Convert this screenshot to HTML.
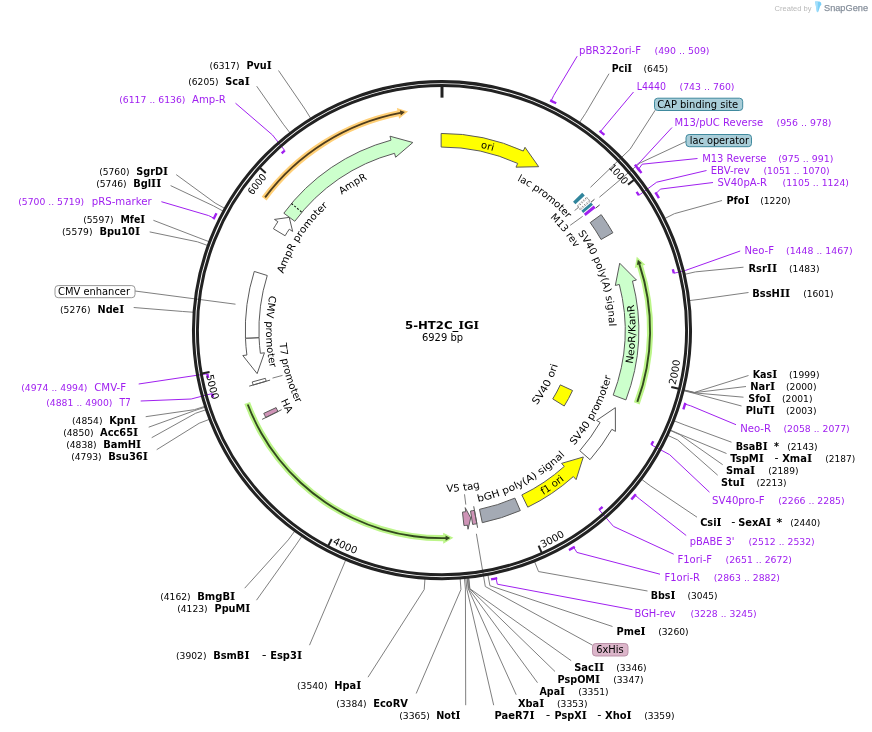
<!DOCTYPE html>
<html lang="en"><head><meta charset="utf-8"><title>5-HT2C_IGI plasmid map</title>
<style>
html,body{margin:0;padding:0;background:#fff;}
body{width:872px;height:732px;overflow:hidden;}
svg{display:block;}
text{white-space:pre;}
.si{font-family:'DejaVu Serif','Liberation Serif',serif;font-size:110%;}
.sj{font-family:'DejaVu Serif','Liberation Serif',serif;}
</style></head>
<body>
<svg width="872" height="732" viewBox="0 0 872 732" font-family="'DejaVu Sans','Liberation Sans',sans-serif">
<rect x="0" y="0" width="872" height="732" fill="#fff"/>
<path d="M278.5,70.5 L305,109.17 L310.85,118.6" fill="none" stroke="#707070" stroke-width="0.9" stroke-linejoin="round"/>
<path d="M256.7,86.2 L283.31,124.2 L290.08,132.99" fill="none" stroke="#707070" stroke-width="0.9" stroke-linejoin="round"/>
<path d="M176.2,174.6 L215.18,203.05 L224.87,208.48" fill="none" stroke="#707070" stroke-width="0.9" stroke-linejoin="round"/>
<path d="M170.6,185.6 L213.59,205.94 L223.34,211.25" fill="none" stroke="#707070" stroke-width="0.9" stroke-linejoin="round"/>
<path d="M153.4,220.3 L198.94,237.84 L209.31,241.78" fill="none" stroke="#707070" stroke-width="0.9" stroke-linejoin="round"/>
<path d="M149.7,231.9 L197.46,241.82 L207.9,245.59" fill="none" stroke="#707070" stroke-width="0.9" stroke-linejoin="round"/>
<path d="M133.7,307.5 L182.67,311.48 L193.74,312.28" fill="none" stroke="#707070" stroke-width="0.9" stroke-linejoin="round"/>
<path d="M145.7,416.7 L194.46,409.66 L205.03,406.27" fill="none" stroke="#707070" stroke-width="0.9" stroke-linejoin="round"/>
<path d="M148.7,427.2 L194.75,410.56 L205.3,407.13" fill="none" stroke="#707070" stroke-width="0.9" stroke-linejoin="round"/>
<path d="M151.7,437.7 L195.64,413.25 L206.15,409.7" fill="none" stroke="#707070" stroke-width="0.9" stroke-linejoin="round"/>
<path d="M156.7,449.7 L199.23,423.23 L209.6,419.25" fill="none" stroke="#707070" stroke-width="0.9" stroke-linejoin="round"/>
<path d="M244.7,588.2 L288.3,539.86 L294.86,530.9" fill="none" stroke="#707070" stroke-width="0.9" stroke-linejoin="round"/>
<path d="M256.5,600.2 L295.81,545.16 L302.05,535.98" fill="none" stroke="#707070" stroke-width="0.9" stroke-linejoin="round"/>
<path d="M309.5,645.2 L341.54,569.96 L345.83,559.72" fill="none" stroke="#707070" stroke-width="0.9" stroke-linejoin="round"/>
<path d="M368,677.2 L424.21,589.54 L424.97,578.47" fill="none" stroke="#707070" stroke-width="0.9" stroke-linejoin="round"/>
<path d="M416.2,693.5 L460.96,589.46 L460.15,578.39" fill="none" stroke="#707070" stroke-width="0.9" stroke-linejoin="round"/>
<path d="M465.7,705.2 L465.43,589.09 L464.43,578.04" fill="none" stroke="#707070" stroke-width="0.9" stroke-linejoin="round"/>
<path d="M493.7,705.2 L466.84,588.96 L465.78,577.91" fill="none" stroke="#707070" stroke-width="0.9" stroke-linejoin="round"/>
<path d="M516.2,694.7 L468.24,588.82 L467.12,577.78" fill="none" stroke="#707070" stroke-width="0.9" stroke-linejoin="round"/>
<path d="M537.5,682.7 L468.71,588.77 L467.57,577.73" fill="none" stroke="#707070" stroke-width="0.9" stroke-linejoin="round"/>
<path d="M555,671.5 L469.65,588.68 L468.47,577.64" fill="none" stroke="#707070" stroke-width="0.9" stroke-linejoin="round"/>
<path d="M571.2,660.7 L469.88,588.65 L468.69,577.61" fill="none" stroke="#707070" stroke-width="0.9" stroke-linejoin="round"/>
<path d="M612.5,626.5 L489.94,585.69 L487.89,574.78" fill="none" stroke="#707070" stroke-width="0.9" stroke-linejoin="round"/>
<path d="M647.5,591 L538.54,571.56 L534.41,561.26" fill="none" stroke="#707070" stroke-width="0.9" stroke-linejoin="round"/>
<path d="M697,517.2 L650.27,485.79 L641.38,479.15" fill="none" stroke="#707070" stroke-width="0.9" stroke-linejoin="round"/>
<path d="M717.7,475.2 L677.68,439.94 L667.62,435.25" fill="none" stroke="#707070" stroke-width="0.9" stroke-linejoin="round"/>
<path d="M722.7,464.7 L680.02,434.78 L669.85,430.32" fill="none" stroke="#707070" stroke-width="0.9" stroke-linejoin="round"/>
<path d="M726.5,453.5 L680.21,434.35 L670.04,429.9" fill="none" stroke="#707070" stroke-width="0.9" stroke-linejoin="round"/>
<path d="M731.5,442.2 L684.17,424.77 L673.83,420.73" fill="none" stroke="#707070" stroke-width="0.9" stroke-linejoin="round"/>
<path d="M741.5,406 L694.2,393.34 L683.44,390.65" fill="none" stroke="#707070" stroke-width="0.9" stroke-linejoin="round"/>
<path d="M743.5,397.2 L694.32,392.89 L683.55,390.21" fill="none" stroke="#707070" stroke-width="0.9" stroke-linejoin="round"/>
<path d="M746,386.5 L694.37,392.66 L683.6,389.99" fill="none" stroke="#707070" stroke-width="0.9" stroke-linejoin="round"/>
<path d="M748.5,375.5 L694.43,392.43 L683.65,389.77" fill="none" stroke="#707070" stroke-width="0.9" stroke-linejoin="round"/>
<path d="M748.5,292.5 L700.16,299.28 L689.14,300.6" fill="none" stroke="#707070" stroke-width="0.9" stroke-linejoin="round"/>
<path d="M743.5,267.2 L695.39,271.88 L684.57,274.37" fill="none" stroke="#707070" stroke-width="0.9" stroke-linejoin="round"/>
<path d="M722,200.5 L674.45,213.67 L664.53,218.65" fill="none" stroke="#707070" stroke-width="0.9" stroke-linejoin="round"/>
<path d="M609,73.7 L585.55,113.37 L579.42,122.62" fill="none" stroke="#707070" stroke-width="0.9" stroke-linejoin="round"/>
<path d="M655.2,110.2 L630.1,149.21 L590.46,187.34" fill="none" stroke="#707070" stroke-width="0.9" stroke-linejoin="round"/>
<path d="M686,141.5 L639.9,163.06 L599.4,197.26" fill="none" stroke="#707070" stroke-width="0.9" />
<path d="M135,291 L235.5,304.2" fill="none" stroke="#707070" stroke-width="0.9" />
<path d="M592.5,645.2 L485.3,586.52 L476.39,533.77" fill="none" stroke="#707070" stroke-width="0.9" />
<path d="M577.2,56.2 L553.76,95.4 L551.4,100.36" fill="none" stroke="#a020f0" stroke-width="1.0" stroke-linejoin="round"/>
<path d="M633.5,92 L604.22,126.96 L600.79,131.26" fill="none" stroke="#a020f0" stroke-width="1.0" stroke-linejoin="round"/>
<path d="M672,127.5 L640.2,161.88 L636.01,165.44" fill="none" stroke="#a020f0" stroke-width="1.0" stroke-linejoin="round"/>
<path d="M697.5,158.5 L642.2,164.2 L638.82,168.81" fill="none" stroke="#a020f0" stroke-width="1.0" stroke-linejoin="round"/>
<path d="M706.5,170.5 L656.7,182.2 L638.94,195.27" fill="none" stroke="#a020f0" stroke-width="1.0" stroke-linejoin="round"/>
<path d="M713,182.5 L660.4,189.1 L656.43,193.07" fill="none" stroke="#a020f0" stroke-width="1.0" stroke-linejoin="round"/>
<path d="M740.2,251 L685.2,270.5 L673.83,273.29" fill="none" stroke="#a020f0" stroke-width="1.0" stroke-linejoin="round"/>
<path d="M736,424.7 L690.74,405.84 L685.48,404.24" fill="none" stroke="#a020f0" stroke-width="1.0" stroke-linejoin="round"/>
<path d="M709.5,492.2 L669.7,454.7 L651.34,444.85" fill="none" stroke="#a020f0" stroke-width="1.0" stroke-linejoin="round"/>
<path d="M686.2,535.5 L639.67,499.05 L635.49,495.48" fill="none" stroke="#a020f0" stroke-width="1.0" stroke-linejoin="round"/>
<path d="M673.7,554.2 L613.5,526.4 L599.15,509.82" fill="none" stroke="#a020f0" stroke-width="1.0" stroke-linejoin="round"/>
<path d="M660,574.2 L576.89,552.42 L574.03,547.72" fill="none" stroke="#a020f0" stroke-width="1.0" stroke-linejoin="round"/>
<path d="M632.5,609.7 L497.33,584.19 L496.16,578.82" fill="none" stroke="#a020f0" stroke-width="1.0" stroke-linejoin="round"/>
<path d="M140.7,401 L191.2,399 L211.89,393.61" fill="none" stroke="#a020f0" stroke-width="1.0" stroke-linejoin="round"/>
<path d="M138.7,384 L190,376.3 L207.32,373.79" fill="none" stroke="#a020f0" stroke-width="1.0" stroke-linejoin="round"/>
<path d="M161.4,201.7 L208.61,215.58 L213.54,218" fill="none" stroke="#a020f0" stroke-width="1.0" stroke-linejoin="round"/>
<path d="M235.5,103.2 L272.5,135 L284.77,150.55" fill="none" stroke="#a020f0" stroke-width="1.0" stroke-linejoin="round"/>
<circle cx="442" cy="330.15" r="248.52" fill="none" stroke="#222" stroke-width="3.05"/>
<circle cx="442" cy="330.15" r="244.58" fill="none" stroke="#222" stroke-width="2.95"/>
<path d="M551.18,100.81 A254,254 0 0,1 555.12,102.73" fill="none" stroke="#a020f0" stroke-width="2.4" stroke-linecap="square"/>
<path d="M600.48,131.65 A254,254 0 0,1 603.52,134.12" fill="none" stroke="#a020f0" stroke-width="2.4" stroke-linecap="square"/>
<path d="M635.63,165.76 A254,254 0 0,1 638.87,169.66" fill="none" stroke="#a020f0" stroke-width="2.4" stroke-linecap="square"/>
<path d="M638.43,169.12 A254,254 0 0,1 640.75,171.99" fill="none" stroke="#a020f0" stroke-width="2.4" stroke-linecap="square"/>
<path d="M636.58,191.89 A238.7,238.7 0 0,1 638.94,195.27" fill="none" stroke="#a020f0" stroke-width="2.4" stroke-linecap="butt"/>
<path d="M656.01,193.34 A254,254 0 0,1 658.33,197.05" fill="none" stroke="#a020f0" stroke-width="2.4" stroke-linecap="square"/>
<path d="M672.81,269.3 A238.7,238.7 0 0,1 673.83,273.29" fill="none" stroke="#a020f0" stroke-width="2.4" stroke-linecap="butt"/>
<path d="M685,404.09 A254,254 0 0,1 683.69,408.27" fill="none" stroke="#a020f0" stroke-width="2.4" stroke-linecap="square"/>
<path d="M653.28,441.22 A238.7,238.7 0 0,1 651.34,444.85" fill="none" stroke="#a020f0" stroke-width="2.4" stroke-linecap="butt"/>
<path d="M635.11,495.15 A254,254 0 0,1 632.08,498.63" fill="none" stroke="#a020f0" stroke-width="2.4" stroke-linecap="square"/>
<path d="M602.54,506.8 A238.7,238.7 0 0,1 599.15,509.82" fill="none" stroke="#a020f0" stroke-width="2.4" stroke-linecap="butt"/>
<path d="M573.77,547.29 A254,254 0 0,1 570.01,549.53" fill="none" stroke="#a020f0" stroke-width="2.4" stroke-linecap="square"/>
<path d="M496.06,578.33 A254,254 0 0,1 492.22,579.14" fill="none" stroke="#a020f0" stroke-width="2.4" stroke-linecap="square"/>
<path d="M213.02,397.56 A238.7,238.7 0 0,1 211.89,393.61" fill="none" stroke="#a020f0" stroke-width="2.4" stroke-linecap="butt"/>
<path d="M208.15,378.04 A238.7,238.7 0 0,1 207.32,373.79" fill="none" stroke="#a020f0" stroke-width="2.4" stroke-linecap="butt"/>
<path d="M213.99,218.22 A254,254 0 0,1 215.95,214.31" fill="none" stroke="#a020f0" stroke-width="2.4" stroke-linecap="square"/>
<path d="M281.7,153.29 A238.7,238.7 0 0,1 284.77,150.55" fill="none" stroke="#a020f0" stroke-width="2.4" stroke-linecap="butt"/>
<path d="M442,86.15 L442,97.65" fill="none" stroke="#222" stroke-width="3" />
<path d="M634.16,179.78 L628.02,184.59" fill="none" stroke="#222" stroke-width="2.0" />
<path id="p1" d="M487.61,102.47 A232.2,232.2 0 0,1 623.28,185.05" fill="none"/>
<text font-size="10" text-anchor="end"><textPath href="#p1" startOffset="100%" textLength="22.9" lengthAdjust="spacingAndGlyphs">1000</textPath></text>
<path d="M678.84,388.81 L671.27,386.94" fill="none" stroke="#222" stroke-width="2.0" />
<path id="p2" d="M675.58,385.29 A240,240 0 0,0 656.38,222.25" fill="none"/>
<text font-size="10" text-anchor="start"><textPath href="#p2" startOffset="0%" textLength="25.6" lengthAdjust="spacingAndGlyphs">2000</textPath></text>
<path d="M541.76,552.82 L538.57,545.71" fill="none" stroke="#222" stroke-width="2.0" />
<path id="p3" d="M542.52,548.08 A240,240 0 0,0 659.09,432.48" fill="none"/>
<text font-size="10" text-anchor="start"><textPath href="#p3" startOffset="0%" textLength="25.6" lengthAdjust="spacingAndGlyphs">3000</textPath></text>
<path d="M328.12,545.94 L331.76,539.05" fill="none" stroke="#222" stroke-width="2.0" />
<path id="p4" d="M332.32,543.62 A240,240 0 0,0 495.2,564.18" fill="none"/>
<text font-size="10" text-anchor="start"><textPath href="#p4" startOffset="0%" textLength="25.6" lengthAdjust="spacingAndGlyphs">4000</textPath></text>
<path d="M201.87,373.45 L209.55,372.07" fill="none" stroke="#222" stroke-width="2.0" />
<path id="p5" d="M206.29,375.33 A240,240 0 0,0 290.48,516.27" fill="none"/>
<text font-size="10" text-anchor="start"><textPath href="#p5" startOffset="0%" textLength="25.6" lengthAdjust="spacingAndGlyphs">5000</textPath></text>
<path d="M259.91,167.73 L265.74,172.92" fill="none" stroke="#222" stroke-width="2.0" />
<path id="p6" d="M209.84,325.67 A232.2,232.2 0 0,1 267.04,177.49" fill="none"/>
<text font-size="10" text-anchor="end"><textPath href="#p6" startOffset="100%" textLength="22.9" lengthAdjust="spacingAndGlyphs">6000</textPath></text>
<path d="M441.11,133.45 A196.7,196.7 0 0,1 523.31,151.04 L525,147.31 L538.67,166.7 L515.99,167.16 L517.69,163.43 A183.1,183.1 0 0,0 441.17,147.05 Z" fill="#ffff00" stroke="#5a5a5a" stroke-width="1.0" stroke-linejoin="miter"/>
<path d="M582.17,192.72 A196.3,196.3 0 0,1 584.76,195.41 L575.45,204.2 A183.5,183.5 0 0,0 573.03,201.68 Z" fill="#31859c" stroke="none" stroke-width="0" stroke-linejoin="miter"/>
<g stroke-dasharray="1.4,1.2">
<path d="M586.58,197.37 A196.3,196.3 0 0,1 590.14,201.35 L580.48,209.75 A183.5,183.5 0 0,0 577.15,206.03 Z" fill="#ffffff" stroke="#444" stroke-width="0.7" stroke-linejoin="miter"/>
</g>
<path d="M591.07,202.43 A196.3,196.3 0 0,1 593.02,204.74 L583.17,212.92 A183.5,183.5 0 0,0 581.35,210.76 Z" fill="#31859c" stroke="none" stroke-width="0" stroke-linejoin="miter"/>
<path d="M593.7,205.56 A196.3,196.3 0 0,1 595.6,207.92 L585.58,215.89 A183.5,183.5 0 0,0 583.81,213.69 Z" fill="#a020f0" stroke="none" stroke-width="0" stroke-linejoin="miter"/>
<path d="M595.71,208.06 L599.7,204.89" fill="none" stroke="#333" stroke-width="0.9" />
<path d="M590.95,202.29 L594.44,199.3" fill="none" stroke="#333" stroke-width="0.9" />
<path d="M601.2,214.63 A196.7,196.7 0 0,1 612.89,232.75 L601.08,239.49 A183.1,183.1 0 0,0 590.19,222.61 Z" fill="#a4aab4" stroke="#5a5a5a" stroke-width="1.0" stroke-linejoin="miter"/>
<path d="M625.92,399.9 A196.7,196.7 0 0,0 632.47,281.05 L636.44,280.03 L619.71,263.21 L615.33,285.47 L619.3,284.45 A183.1,183.1 0 0,1 613.2,395.08 Z" fill="#ccffcc" stroke="#5a5a5a" stroke-width="1.0" stroke-linejoin="miter"/>
<path d="M572.56,390.54 A143.85,143.85 0 0,1 564.21,406.03 L552.74,398.91 A130.35,130.35 0 0,0 560.31,384.87 Z" fill="#ffff00" stroke="#5a5a5a" stroke-width="1.0" stroke-linejoin="miter"/>
<path d="M590.03,459.68 A196.7,196.7 0 0,0 611.87,429.33 L615.41,431.4 L615.35,407.67 L596.58,420.41 L600.12,422.47 A183.1,183.1 0 0,1 579.79,450.73 Z" fill="#ffffff" stroke="#5a5a5a" stroke-width="1.0" stroke-linejoin="miter"/>
<path d="M527.76,507.17 A196.7,196.7 0 0,0 573.36,476.56 L576.1,479.61 L583.31,457.01 L561.54,463.38 L564.28,466.43 A183.1,183.1 0 0,1 521.83,494.93 Z" fill="#ffff00" stroke="#5a5a5a" stroke-width="1.0" stroke-linejoin="miter"/>
<path d="M520.3,510.59 A196.7,196.7 0 0,1 482.29,522.68 L479.51,509.37 A183.1,183.1 0 0,0 514.89,498.12 Z" fill="#a4aab4" stroke="#5a5a5a" stroke-width="1.0" stroke-linejoin="miter"/>
<path d="M476.86,523.74 A196.7,196.7 0 0,1 472.64,524.45 L470.52,511.01 A183.1,183.1 0 0,0 474.45,510.35 Z" fill="#cf94b7" stroke="#5a5a5a" stroke-width="1.0" stroke-linejoin="miter"/>
<path d="M477.59,527.77 L473.73,506.32" fill="none" stroke="#5a5a5a" stroke-width="1.0" />
<path d="M463.98,525.62 A196.7,196.7 0 0,0 467.49,525.19 L468.02,529.26 L470.73,517.86 L465.19,507.64 L465.73,511.71 A183.1,183.1 0 0,1 462.46,512.1 Z" fill="#cf94b7" stroke="#5a5a5a" stroke-width="1.0" stroke-linejoin="miter"/>
<path d="M265.78,417.55 A196.7,196.7 0 0,1 263.77,413.37 L276.1,407.62 A183.1,183.1 0 0,0 277.97,411.51 Z" fill="#cf94b7" stroke="#5a5a5a" stroke-width="1.0" stroke-linejoin="miter"/>
<path d="M262.11,419.37 L281.64,409.68" fill="none" stroke="#5a5a5a" stroke-width="1.0" />
<path d="M253.11,385.02 A196.7,196.7 0 0,1 252.24,381.93 L265.36,378.35 A183.1,183.1 0 0,0 266.17,381.22 Z" fill="#ffffff" stroke="#5a5a5a" stroke-width="1.0" stroke-linejoin="miter"/>
<path d="M249.17,386.16 L270.1,380.08" fill="none" stroke="#5a5a5a" stroke-width="1.0" />
<path d="M245.47,338.31 A196.7,196.7 0 0,0 246.88,355.02 L242.81,355.54 L257.14,373.63 L264.44,352.78 L260.37,353.3 A183.1,183.1 0 0,1 259.06,337.74 Z" fill="#ffffff" stroke="#5a5a5a" stroke-width="1.0" stroke-linejoin="miter"/>
<path d="M245.46,338.13 A196.7,196.7 0 0,1 254.27,271.44 L267.25,275.5 A183.1,183.1 0 0,0 259.05,337.58 Z" fill="#ffffff" stroke="#5a5a5a" stroke-width="1.0" stroke-linejoin="miter"/>
<path d="M273.45,228.75 A196.7,196.7 0 0,1 277.9,221.69 L274.48,219.43 L289.22,217.37 L292.67,231.45 L289.25,229.19 A183.1,183.1 0 0,0 285.1,235.76 Z" fill="#ffffff" stroke="#5a5a5a" stroke-width="1.0" stroke-linejoin="miter"/>
<path d="M283.85,213.19 A196.7,196.7 0 0,1 391.03,140.17 L389.97,136.21 L412.84,142.5 L395.62,157.26 L394.56,153.3 A183.1,183.1 0 0,0 294.79,221.27 Z" fill="#ccffcc" stroke="#5a5a5a" stroke-width="1.0" stroke-linejoin="miter"/>
<path d="M291.48,203.53 L301.88,212.28" fill="none" stroke="#111" stroke-width="1.1" stroke-dasharray="2,1.7"/>
<path d="M587.71,198.02 L577.64,207.16" fill="none" stroke="#555" stroke-width="0.7" stroke-dasharray="1.5,1.5"/>
<path d="M589.62,200.15 L579.41,209.14" fill="none" stroke="#555" stroke-width="0.7" stroke-dasharray="1.5,1.5"/>
<path d="M261.7,196.81 A224.25,224.25 0 0,1 397.39,110.38 L396.9,107.98 L408.04,111.57 L399.09,118.76 L398.6,116.36 A218.15,218.15 0 0,0 266.61,200.43 Z" fill="#ffcf76"/>
<path d="M264.35,196.77 A222.15,222.15 0 0,1 400.17,111.97 L399.86,110.35 L404.88,112.09 L400.84,115.46 L400.53,113.84 A220.25,220.25 0 0,0 265.87,197.91 Z" fill="#4f3d1c"/>
<path d="M639.63,404.49 A211.15,211.15 0 0,0 643.01,265.49 L645.34,264.74 L636.74,256.8 L634.87,268.11 L637.2,267.36 A205.05,205.05 0 0,1 633.92,402.34 Z" fill="#bcf589"/>
<path d="M638.23,402.24 A209.05,209.05 0 0,0 640.26,263.85 L641.82,263.32 L637.85,259.8 L636.89,264.97 L638.45,264.45 A207.15,207.15 0 0,1 636.44,401.59 Z" fill="#33491f"/>
<path d="M244.33,404.09 A211.05,211.05 0 0,0 443.23,541.2 L443.24,543.65 L453.41,537.84 L443.18,532.65 L443.19,535.1 A204.95,204.95 0 0,1 250.04,401.96 Z" fill="#bcf589"/>
<path d="M246.86,404.86 A208.95,208.95 0 0,0 445.63,539.07 L445.66,540.72 L450.21,537.99 L445.57,535.52 L445.59,537.17 A207.05,207.05 0 0,1 248.64,404.18 Z" fill="#33491f"/>
<path id="p7" d="M390.34,151.16 A186.3,186.3 0 0,1 571.18,195.91" fill="none"/>
<text font-size="10" fill="#000" font-weight="normal" text-anchor="middle"><textPath href="#p7" startOffset="50%">ori</textPath></text>
<path id="p8" d="M463.86,164.08 A167.5,167.5 0 0,1 596.75,266.05" fill="none"/>
<text font-size="10" fill="#000" font-weight="normal" text-anchor="middle"><textPath href="#p8" startOffset="50%" textLength="63.5" lengthAdjust="spacingAndGlyphs">lac promoter</textPath></text>
<path id="p9" d="M497.91,184.51 A156,156 0 0,1 596.08,305.75" fill="none"/>
<text font-size="10" fill="#000" font-weight="normal" text-anchor="middle"><textPath href="#p9" startOffset="50%" textLength="39" lengthAdjust="spacingAndGlyphs">M13 rev</textPath></text>
<path id="p10" d="M552.77,205.17 A167,167 0 0,1 605.62,363.59" fill="none"/>
<text font-size="10" fill="#000" font-weight="normal" text-anchor="middle"><textPath href="#p10" startOffset="50%" textLength="99.8" lengthAdjust="spacingAndGlyphs">SV40 poly(A) signal</textPath></text>
<path id="p11" d="M607.51,430.39 A193.5,193.5 0 0,0 611.57,236.93" fill="none"/>
<text font-size="10" fill="#000" font-weight="normal" text-anchor="middle"><textPath href="#p11" startOffset="50%" textLength="60" lengthAdjust="spacingAndGlyphs">NeoR/KanR</textPath></text>
<path id="p12" d="M506.84,432.31 A121,121 0 0,0 562.89,325.08" fill="none"/>
<text font-size="10" fill="#000" font-weight="normal" text-anchor="middle"><textPath href="#p12" startOffset="50%" textLength="45.5" lengthAdjust="spacingAndGlyphs">SV40 ori</textPath></text>
<path id="p13" d="M534.48,479.31 A175.5,175.5 0 0,0 617.41,324.64" fill="none"/>
<text font-size="10" fill="#000" font-weight="normal" text-anchor="middle"><textPath href="#p13" startOffset="50%" textLength="79" lengthAdjust="spacingAndGlyphs">SV40 promoter</textPath></text>
<path id="p14" d="M460.21,522.79 A193.5,193.5 0 0,0 617.94,410.7" fill="none"/>
<text font-size="10" fill="#000" font-weight="normal" text-anchor="middle"><textPath href="#p14" startOffset="50%">f1 ori</textPath></text>
<path id="p15" d="M436.49,505.56 A175.5,175.5 0 0,0 591.16,422.63" fill="none"/>
<text font-size="10" fill="#000" font-weight="normal" text-anchor="middle"><textPath href="#p15" startOffset="50%" textLength="100" lengthAdjust="spacingAndGlyphs">bGH poly(A) signal</textPath></text>
<path id="p16" d="M380.27,479.93 A162,162 0 0,0 540.84,458.5" fill="none"/>
<text font-size="10" fill="#000" font-weight="normal" text-anchor="middle"><textPath href="#p16" startOffset="50%" textLength="34" lengthAdjust="spacingAndGlyphs">V5 tag</textPath></text>
<path id="p17" d="M266.43,317.87 A176,176 0 0,0 343.58,476.06" fill="none"/>
<text font-size="10" fill="#000" font-weight="normal" text-anchor="middle"><textPath href="#p17" startOffset="50%">HA</textPath></text>
<path id="p18" d="M284.09,289.75 A163,163 0 0,0 328.06,446.71" fill="none"/>
<text font-size="10" fill="#000" font-weight="normal" text-anchor="middle"><textPath href="#p18" startOffset="50%" textLength="62.6" lengthAdjust="spacingAndGlyphs">T7 promoter</textPath></text>
<path id="p19" d="M288.82,243.48 A176,176 0 0,0 290.35,419.48" fill="none"/>
<text font-size="10" fill="#000" font-weight="normal" text-anchor="middle"><textPath href="#p19" startOffset="50%" textLength="73" lengthAdjust="spacingAndGlyphs">CMV promoter</textPath></text>
<path id="p20" d="M273.81,319.86 A168.5,168.5 0 0,1 366.82,179.35" fill="none"/>
<text font-size="10" fill="#000" font-weight="normal" text-anchor="middle"><textPath href="#p20" startOffset="50%" textLength="82" lengthAdjust="spacingAndGlyphs">AmpR promoter</textPath></text>
<path id="p21" d="M294.06,249.49 A168.5,168.5 0 0,1 437.88,161.7" fill="none"/>
<text font-size="10" fill="#000" font-weight="normal" text-anchor="middle"><textPath href="#p21" startOffset="50%">AmpR</textPath></text>
<path d="M574.6,210.5 L578.3,207.7" fill="none" stroke="#707070" stroke-width="0.9" />
<path d="M570.2,225.3 L582.7,216.3" fill="none" stroke="#707070" stroke-width="0.9" />
<path d="M272.5,378.1 L282.5,375.4" fill="none" stroke="#707070" stroke-width="0.9" />
<path d="M464.5,494.3 L465.8,504.6" fill="none" stroke="#707070" stroke-width="0.9" />
<text x="405" y="328.5" font-size="11" fill="#000" font-weight="bold" textLength="74" lengthAdjust="spacingAndGlyphs">5-HT2C_<tspan class="sj">I</tspan>G<tspan class="sj">I</tspan></text>
<text x="422" y="340.5" font-size="10" fill="#000" font-weight="normal" textLength="41" lengthAdjust="spacingAndGlyphs">6929 bp</text>
<text x="579" y="53.7" font-size="10" fill="#a020f0" font-weight="normal" textLength="62" lengthAdjust="spacingAndGlyphs">pBR322ori-F</text>
<text x="654.5" y="53.8" font-size="9" fill="#a020f0" font-weight="normal" textLength="55" lengthAdjust="spacingAndGlyphs">(490 .. 509)</text>
<text x="611.7" y="71.7" font-size="10" fill="#000" font-weight="bold" textLength="20.5" lengthAdjust="spacingAndGlyphs">Pci<tspan class="si">I</tspan></text>
<text x="643.5" y="71.8" font-size="9" fill="#000" font-weight="normal" textLength="24.7" lengthAdjust="spacingAndGlyphs">(645)</text>
<text x="636.7" y="89.7" font-size="10" fill="#a020f0" font-weight="normal" textLength="29.3" lengthAdjust="spacingAndGlyphs">L4440</text>
<text x="679.5" y="89.8" font-size="9" fill="#a020f0" font-weight="normal" textLength="55" lengthAdjust="spacingAndGlyphs">(743 .. 760)</text>
<text x="674.5" y="125.7" font-size="10" fill="#a020f0" font-weight="normal" textLength="88.7" lengthAdjust="spacingAndGlyphs">M13/pUC Reverse</text>
<text x="776.5" y="125.8" font-size="9" fill="#a020f0" font-weight="normal" textLength="55" lengthAdjust="spacingAndGlyphs">(956 .. 978)</text>
<text x="702.2" y="161.7" font-size="10" fill="#a020f0" font-weight="normal" textLength="64.3" lengthAdjust="spacingAndGlyphs">M13 Reverse</text>
<text x="778.2" y="161.8" font-size="9" fill="#a020f0" font-weight="normal" textLength="55.3" lengthAdjust="spacingAndGlyphs">(975 .. 991)</text>
<text x="710.7" y="173.7" font-size="10" fill="#a020f0" font-weight="normal" textLength="39" lengthAdjust="spacingAndGlyphs">EBV-rev</text>
<text x="763.5" y="173.8" font-size="9" fill="#a020f0" font-weight="normal" textLength="66.2" lengthAdjust="spacingAndGlyphs">(1051 .. 1070)</text>
<text x="717.5" y="185.7" font-size="10" fill="#a020f0" font-weight="normal" textLength="49.5" lengthAdjust="spacingAndGlyphs">SV40pA-R</text>
<text x="782.5" y="185.8" font-size="9" fill="#a020f0" font-weight="normal" textLength="66.5" lengthAdjust="spacingAndGlyphs">(1105 .. 1124)</text>
<text x="726.5" y="204.2" font-size="10" fill="#000" font-weight="bold" textLength="23" lengthAdjust="spacingAndGlyphs">Pfo<tspan class="si">I</tspan></text>
<text x="760.2" y="204.3" font-size="9" fill="#000" font-weight="normal" textLength="30.5" lengthAdjust="spacingAndGlyphs">(1220)</text>
<text x="744.5" y="254.2" font-size="10" fill="#a020f0" font-weight="normal" textLength="29.5" lengthAdjust="spacingAndGlyphs">Neo-F</text>
<text x="786" y="254.3" font-size="9" fill="#a020f0" font-weight="normal" textLength="66.7" lengthAdjust="spacingAndGlyphs">(1448 .. 1467)</text>
<text x="748.5" y="272.2" font-size="10" fill="#000" font-weight="bold" textLength="28.5" lengthAdjust="spacingAndGlyphs">Rsr<tspan class="si">I</tspan><tspan class="si">I</tspan></text>
<text x="789" y="272.3" font-size="9" fill="#000" font-weight="normal" textLength="30.5" lengthAdjust="spacingAndGlyphs">(1483)</text>
<text x="752.2" y="297.2" font-size="10" fill="#000" font-weight="bold" textLength="38" lengthAdjust="spacingAndGlyphs">BssH<tspan class="si">I</tspan><tspan class="si">I</tspan></text>
<text x="803.2" y="297.3" font-size="9" fill="#000" font-weight="normal" textLength="30.3" lengthAdjust="spacingAndGlyphs">(1601)</text>
<text x="752.7" y="377.7" font-size="10" fill="#000" font-weight="bold" textLength="24.5" lengthAdjust="spacingAndGlyphs">Kas<tspan class="si">I</tspan></text>
<text x="789" y="377.8" font-size="9" fill="#000" font-weight="normal" textLength="30.5" lengthAdjust="spacingAndGlyphs">(1999)</text>
<text x="750.2" y="389.7" font-size="10" fill="#000" font-weight="bold" textLength="25" lengthAdjust="spacingAndGlyphs">Nar<tspan class="si">I</tspan></text>
<text x="786" y="389.8" font-size="9" fill="#000" font-weight="normal" textLength="30.5" lengthAdjust="spacingAndGlyphs">(2000)</text>
<text x="748.2" y="401.7" font-size="10" fill="#000" font-weight="bold" textLength="22.8" lengthAdjust="spacingAndGlyphs">Sfo<tspan class="si">I</tspan></text>
<text x="782" y="401.8" font-size="9" fill="#000" font-weight="normal" textLength="30.5" lengthAdjust="spacingAndGlyphs">(2001)</text>
<text x="745.7" y="413.5" font-size="10" fill="#000" font-weight="bold" textLength="29" lengthAdjust="spacingAndGlyphs">PluT<tspan class="si">I</tspan></text>
<text x="786" y="413.6" font-size="9" fill="#000" font-weight="normal" textLength="30.5" lengthAdjust="spacingAndGlyphs">(2003)</text>
<text x="740.2" y="431.7" font-size="10" fill="#a020f0" font-weight="normal" textLength="30.8" lengthAdjust="spacingAndGlyphs">Neo-R</text>
<text x="783.5" y="431.8" font-size="9" fill="#a020f0" font-weight="normal" textLength="66.2" lengthAdjust="spacingAndGlyphs">(2058 .. 2077)</text>
<text x="735.7" y="449.7" font-size="10" fill="#000" font-weight="bold" textLength="32" lengthAdjust="spacingAndGlyphs">BsaB<tspan class="si">I</tspan></text>
<text x="774" y="449.7" font-size="10" fill="#000" font-weight="bold" textLength="5" lengthAdjust="spacingAndGlyphs">*</text>
<text x="787.2" y="449.8" font-size="9" fill="#000" font-weight="normal" textLength="30.5" lengthAdjust="spacingAndGlyphs">(2143)</text>
<text x="730.2" y="461.7" font-size="10" fill="#000" font-weight="bold" textLength="33.8" lengthAdjust="spacingAndGlyphs">TspM<tspan class="si">I</tspan></text>
<text x="774.7" y="461" font-size="11" fill="#000" stroke="#000" stroke-width="0.3" textLength="3.6" lengthAdjust="spacingAndGlyphs">-</text>
<text x="782.2" y="461.7" font-size="10" fill="#000" font-weight="bold" textLength="29.8" lengthAdjust="spacingAndGlyphs">Xma<tspan class="si">I</tspan></text>
<text x="825.2" y="461.8" font-size="9" fill="#000" font-weight="normal" textLength="30" lengthAdjust="spacingAndGlyphs">(2187)</text>
<text x="726" y="473.5" font-size="10" fill="#000" font-weight="bold" textLength="29.2" lengthAdjust="spacingAndGlyphs">Sma<tspan class="si">I</tspan></text>
<text x="768.2" y="473.6" font-size="9" fill="#000" font-weight="normal" textLength="30.3" lengthAdjust="spacingAndGlyphs">(2189)</text>
<text x="721" y="485.5" font-size="10" fill="#000" font-weight="bold" textLength="23.7" lengthAdjust="spacingAndGlyphs">Stu<tspan class="si">I</tspan></text>
<text x="756.5" y="485.6" font-size="9" fill="#000" font-weight="normal" textLength="30" lengthAdjust="spacingAndGlyphs">(2213)</text>
<text x="712" y="504" font-size="10" fill="#a020f0" font-weight="normal" textLength="52.7" lengthAdjust="spacingAndGlyphs">SV40pro-F</text>
<text x="778.2" y="504.1" font-size="9" fill="#a020f0" font-weight="normal" textLength="66.5" lengthAdjust="spacingAndGlyphs">(2266 .. 2285)</text>
<text x="700.2" y="526" font-size="10" fill="#000" font-weight="bold" textLength="21.3" lengthAdjust="spacingAndGlyphs">Csi<tspan class="si">I</tspan></text>
<text x="731.5" y="525.3" font-size="11" fill="#000" stroke="#000" stroke-width="0.3" textLength="3.6" lengthAdjust="spacingAndGlyphs">-</text>
<text x="738.2" y="526" font-size="10" fill="#000" font-weight="bold" textLength="32.8" lengthAdjust="spacingAndGlyphs">SexA<tspan class="si">I</tspan></text>
<text x="776.5" y="526" font-size="10" fill="#000" font-weight="bold" textLength="5.7" lengthAdjust="spacingAndGlyphs">*</text>
<text x="790.2" y="526.1" font-size="9" fill="#000" font-weight="normal" textLength="30" lengthAdjust="spacingAndGlyphs">(2440)</text>
<text x="689.7" y="544.7" font-size="10" fill="#a020f0" font-weight="normal" textLength="44.8" lengthAdjust="spacingAndGlyphs">pBABE 3'</text>
<text x="748.5" y="544.8" font-size="9" fill="#a020f0" font-weight="normal" textLength="66.2" lengthAdjust="spacingAndGlyphs">(2512 .. 2532)</text>
<text x="677.5" y="562.5" font-size="10" fill="#a020f0" font-weight="normal" textLength="34.5" lengthAdjust="spacingAndGlyphs">F1ori-F</text>
<text x="725.5" y="562.6" font-size="9" fill="#a020f0" font-weight="normal" textLength="66.5" lengthAdjust="spacingAndGlyphs">(2651 .. 2672)</text>
<text x="664.5" y="580.5" font-size="10" fill="#a020f0" font-weight="normal" textLength="35.5" lengthAdjust="spacingAndGlyphs">F1ori-R</text>
<text x="713.7" y="580.6" font-size="9" fill="#a020f0" font-weight="normal" textLength="66.3" lengthAdjust="spacingAndGlyphs">(2863 .. 2882)</text>
<text x="650.7" y="598.5" font-size="10" fill="#000" font-weight="bold" textLength="24.8" lengthAdjust="spacingAndGlyphs">Bbs<tspan class="si">I</tspan></text>
<text x="687.5" y="598.6" font-size="9" fill="#000" font-weight="normal" textLength="30" lengthAdjust="spacingAndGlyphs">(3045)</text>
<text x="634.5" y="616.5" font-size="10" fill="#a020f0" font-weight="normal" textLength="41.2" lengthAdjust="spacingAndGlyphs">BGH-rev</text>
<text x="690.5" y="616.6" font-size="9" fill="#a020f0" font-weight="normal" textLength="66.2" lengthAdjust="spacingAndGlyphs">(3228 .. 3245)</text>
<text x="616.5" y="634.5" font-size="10" fill="#000" font-weight="bold" textLength="29.1" lengthAdjust="spacingAndGlyphs">Pme<tspan class="si">I</tspan></text>
<text x="658.2" y="634.6" font-size="9" fill="#000" font-weight="normal" textLength="30.5" lengthAdjust="spacingAndGlyphs">(3260)</text>
<text x="574.2" y="670.5" font-size="10" fill="#000" font-weight="bold" textLength="30" lengthAdjust="spacingAndGlyphs">Sac<tspan class="si">I</tspan><tspan class="si">I</tspan></text>
<text x="616.2" y="670.6" font-size="9" fill="#000" font-weight="normal" textLength="30.5" lengthAdjust="spacingAndGlyphs">(3346)</text>
<text x="557.5" y="682.5" font-size="10" fill="#000" font-weight="bold" textLength="42.5" lengthAdjust="spacingAndGlyphs">PspOM<tspan class="si">I</tspan></text>
<text x="613.2" y="682.6" font-size="9" fill="#000" font-weight="normal" textLength="30.5" lengthAdjust="spacingAndGlyphs">(3347)</text>
<text x="539.5" y="694.5" font-size="10" fill="#000" font-weight="bold" textLength="25.5" lengthAdjust="spacingAndGlyphs">Apa<tspan class="si">I</tspan></text>
<text x="578.2" y="694.6" font-size="9" fill="#000" font-weight="normal" textLength="30.5" lengthAdjust="spacingAndGlyphs">(3351)</text>
<text x="518" y="706.5" font-size="10" fill="#000" font-weight="bold" textLength="26.2" lengthAdjust="spacingAndGlyphs">Xba<tspan class="si">I</tspan></text>
<text x="557" y="706.6" font-size="9" fill="#000" font-weight="normal" textLength="30.5" lengthAdjust="spacingAndGlyphs">(3353)</text>
<text x="494.5" y="718.5" font-size="10" fill="#000" font-weight="bold" textLength="40" lengthAdjust="spacingAndGlyphs">PaeR7<tspan class="si">I</tspan></text>
<text x="546.2" y="717.8" font-size="11" fill="#000" stroke="#000" stroke-width="0.3" textLength="3.6" lengthAdjust="spacingAndGlyphs">-</text>
<text x="554.5" y="718.5" font-size="10" fill="#000" font-weight="bold" textLength="32.2" lengthAdjust="spacingAndGlyphs">PspX<tspan class="si">I</tspan></text>
<text x="597.5" y="717.8" font-size="11" fill="#000" stroke="#000" stroke-width="0.3" textLength="3.6" lengthAdjust="spacingAndGlyphs">-</text>
<text x="605" y="718.5" font-size="10" fill="#000" font-weight="bold" textLength="26.7" lengthAdjust="spacingAndGlyphs">Xho<tspan class="si">I</tspan></text>
<text x="644.2" y="718.6" font-size="9" fill="#000" font-weight="normal" textLength="30.3" lengthAdjust="spacingAndGlyphs">(3359)</text>
<text x="209.4" y="68.8" font-size="9" fill="#000" font-weight="normal" textLength="30.2" lengthAdjust="spacingAndGlyphs">(6317)</text>
<text x="246.4" y="68.7" font-size="10" fill="#000" font-weight="bold" textLength="25.3" lengthAdjust="spacingAndGlyphs">Pvu<tspan class="si">I</tspan></text>
<text x="188.3" y="84.6" font-size="9" fill="#000" font-weight="normal" textLength="30.2" lengthAdjust="spacingAndGlyphs">(6205)</text>
<text x="225.3" y="84.5" font-size="10" fill="#000" font-weight="bold" textLength="24.4" lengthAdjust="spacingAndGlyphs">Sca<tspan class="si">I</tspan></text>
<text x="119.2" y="102.6" font-size="9" fill="#a020f0" font-weight="normal" textLength="66.3" lengthAdjust="spacingAndGlyphs">(6117 .. 6136)</text>
<text x="192" y="102.5" font-size="10" fill="#a020f0" font-weight="normal" textLength="33.9" lengthAdjust="spacingAndGlyphs">Amp-R</text>
<text x="99.2" y="175.1" font-size="9" fill="#000" font-weight="normal" textLength="30.3" lengthAdjust="spacingAndGlyphs">(5760)</text>
<text x="136.2" y="175" font-size="10" fill="#000" font-weight="bold" textLength="31.8" lengthAdjust="spacingAndGlyphs">SgrD<tspan class="si">I</tspan></text>
<text x="96.2" y="187.1" font-size="9" fill="#000" font-weight="normal" textLength="30.5" lengthAdjust="spacingAndGlyphs">(5746)</text>
<text x="133.2" y="187" font-size="10" fill="#000" font-weight="bold" textLength="28" lengthAdjust="spacingAndGlyphs">Bgl<tspan class="si">I</tspan><tspan class="si">I</tspan></text>
<text x="18.2" y="205.1" font-size="9" fill="#a020f0" font-weight="normal" textLength="66" lengthAdjust="spacingAndGlyphs">(5700 .. 5719)</text>
<text x="91.7" y="205" font-size="10" fill="#a020f0" font-weight="normal" textLength="60" lengthAdjust="spacingAndGlyphs">pRS-marker</text>
<text x="83.2" y="223.1" font-size="9" fill="#000" font-weight="normal" textLength="30.5" lengthAdjust="spacingAndGlyphs">(5597)</text>
<text x="120.5" y="223" font-size="10" fill="#000" font-weight="bold" textLength="24.7" lengthAdjust="spacingAndGlyphs">Mfe<tspan class="si">I</tspan></text>
<text x="62" y="235.1" font-size="9" fill="#000" font-weight="normal" textLength="30.5" lengthAdjust="spacingAndGlyphs">(5579)</text>
<text x="99.5" y="235" font-size="10" fill="#000" font-weight="bold" textLength="40.5" lengthAdjust="spacingAndGlyphs">Bpu10<tspan class="si">I</tspan></text>
<text x="60" y="313.1" font-size="9" fill="#000" font-weight="normal" textLength="30.5" lengthAdjust="spacingAndGlyphs">(5276)</text>
<text x="97.5" y="313" font-size="10" fill="#000" font-weight="bold" textLength="26.7" lengthAdjust="spacingAndGlyphs">Nde<tspan class="si">I</tspan></text>
<text x="21.2" y="391.1" font-size="9" fill="#a020f0" font-weight="normal" textLength="66.3" lengthAdjust="spacingAndGlyphs">(4974 .. 4994)</text>
<text x="94.2" y="391" font-size="10" fill="#a020f0" font-weight="normal" textLength="32" lengthAdjust="spacingAndGlyphs">CMV-F</text>
<text x="46.2" y="406.1" font-size="9" fill="#a020f0" font-weight="normal" textLength="66.3" lengthAdjust="spacingAndGlyphs">(4881 .. 4900)</text>
<text x="119.5" y="406" font-size="10" fill="#a020f0" font-weight="normal" textLength="11.2" lengthAdjust="spacingAndGlyphs">T7</text>
<text x="72" y="424.1" font-size="9" fill="#000" font-weight="normal" textLength="30.5" lengthAdjust="spacingAndGlyphs">(4854)</text>
<text x="109.2" y="424" font-size="10" fill="#000" font-weight="bold" textLength="26.5" lengthAdjust="spacingAndGlyphs">Kpn<tspan class="si">I</tspan></text>
<text x="63.2" y="436.1" font-size="9" fill="#000" font-weight="normal" textLength="30.5" lengthAdjust="spacingAndGlyphs">(4850)</text>
<text x="100" y="436" font-size="10" fill="#000" font-weight="bold" textLength="38.2" lengthAdjust="spacingAndGlyphs">Acc65<tspan class="si">I</tspan></text>
<text x="66.2" y="448.1" font-size="9" fill="#000" font-weight="normal" textLength="30.5" lengthAdjust="spacingAndGlyphs">(4838)</text>
<text x="103.2" y="448" font-size="10" fill="#000" font-weight="bold" textLength="38" lengthAdjust="spacingAndGlyphs">BamH<tspan class="si">I</tspan></text>
<text x="71.2" y="460.1" font-size="9" fill="#000" font-weight="normal" textLength="30.5" lengthAdjust="spacingAndGlyphs">(4793)</text>
<text x="108.2" y="460" font-size="10" fill="#000" font-weight="bold" textLength="39.8" lengthAdjust="spacingAndGlyphs">Bsu36<tspan class="si">I</tspan></text>
<text x="160.2" y="600.1" font-size="9" fill="#000" font-weight="normal" textLength="30.5" lengthAdjust="spacingAndGlyphs">(4162)</text>
<text x="197.2" y="600" font-size="10" fill="#000" font-weight="bold" textLength="38" lengthAdjust="spacingAndGlyphs">BmgB<tspan class="si">I</tspan></text>
<text x="177.2" y="612.1" font-size="9" fill="#000" font-weight="normal" textLength="30.5" lengthAdjust="spacingAndGlyphs">(4123)</text>
<text x="214.5" y="612" font-size="10" fill="#000" font-weight="bold" textLength="35.7" lengthAdjust="spacingAndGlyphs">PpuM<tspan class="si">I</tspan></text>
<text x="176" y="658.6" font-size="9" fill="#000" font-weight="normal" textLength="30.5" lengthAdjust="spacingAndGlyphs">(3902)</text>
<text x="213.2" y="658.5" font-size="10" fill="#000" font-weight="bold" textLength="36.3" lengthAdjust="spacingAndGlyphs">BsmB<tspan class="si">I</tspan></text>
<text x="262.2" y="657.8" font-size="11" fill="#000" stroke="#000" stroke-width="0.3" textLength="3.9" lengthAdjust="spacingAndGlyphs">-</text>
<text x="270.2" y="658.5" font-size="10" fill="#000" font-weight="bold" textLength="31.8" lengthAdjust="spacingAndGlyphs">Esp3<tspan class="si">I</tspan></text>
<text x="297" y="689.1" font-size="9" fill="#000" font-weight="normal" textLength="30.5" lengthAdjust="spacingAndGlyphs">(3540)</text>
<text x="334.2" y="689" font-size="10" fill="#000" font-weight="bold" textLength="27" lengthAdjust="spacingAndGlyphs">Hpa<tspan class="si">I</tspan></text>
<text x="336.2" y="707.1" font-size="9" fill="#000" font-weight="normal" textLength="30.5" lengthAdjust="spacingAndGlyphs">(3384)</text>
<text x="373.2" y="707" font-size="10" fill="#000" font-weight="bold" textLength="34.8" lengthAdjust="spacingAndGlyphs">EcoRV</text>
<text x="399.2" y="719.1" font-size="9" fill="#000" font-weight="normal" textLength="30.8" lengthAdjust="spacingAndGlyphs">(3365)</text>
<text x="436.2" y="719" font-size="10" fill="#000" font-weight="bold" textLength="24.3" lengthAdjust="spacingAndGlyphs">Not<tspan class="si">I</tspan></text>
<rect x="654.5" y="98.2" width="88.2" height="12.3" rx="3.2" ry="3.2" fill="#a9cdd8" stroke="#2f7f95" stroke-width="0.9"/>
<text x="657.2" y="107.6" font-size="10" fill="#000" font-weight="normal" textLength="81" lengthAdjust="spacingAndGlyphs">CAP binding site</text>
<rect x="686" y="134.5" width="65.5" height="12.2" rx="3.2" ry="3.2" fill="#a9cdd8" stroke="#2f7f95" stroke-width="0.9"/>
<text x="689.7" y="143.8" font-size="10" fill="#000" font-weight="normal" textLength="59.3" lengthAdjust="spacingAndGlyphs">lac operator</text>
<rect x="55" y="285.6" width="80" height="12.1" rx="3.2" ry="3.2" fill="#fff" stroke="#8c8c8c" stroke-width="0.9"/>
<text x="58" y="294.7" font-size="10" fill="#000" font-weight="normal" textLength="72" lengthAdjust="spacingAndGlyphs">CMV enhancer</text>
<rect x="592.5" y="643.5" width="35.5" height="12.5" rx="3.2" ry="3.2" fill="#dcb6ca" stroke="#b58aa2" stroke-width="0.9"/>
<text x="596.2" y="652.8" font-size="10" fill="#000" font-weight="normal" textLength="27.5" lengthAdjust="spacingAndGlyphs">6xHis</text>
<text x="774.5" y="11" font-size="7.4" fill="#b9b9b9" font-family="'Liberation Sans',sans-serif" textLength="37" lengthAdjust="spacingAndGlyphs">Created by</text>
<path d="M815.1,1.5 L819.4,1.5 Q821.6,2.2 821.4,4.6 Q821.2,5.6 820.2,6 L818.4,11.6 Q817.6,12.9 816.8,11.6 Z" fill="#7ccff6"/>
<path d="M815.1,1.5 L817.9,1.5 L817.6,12.3 Q817.1,12.5 816.8,11.6 Z" fill="#a6e0fb"/>
<text x="824" y="11.4" font-size="9.6" fill="#87909c" stroke="#87909c" stroke-width="0.25" font-family="'Liberation Sans',sans-serif" textLength="44" lengthAdjust="spacingAndGlyphs">SnapGene</text>
</svg>
</body></html>
